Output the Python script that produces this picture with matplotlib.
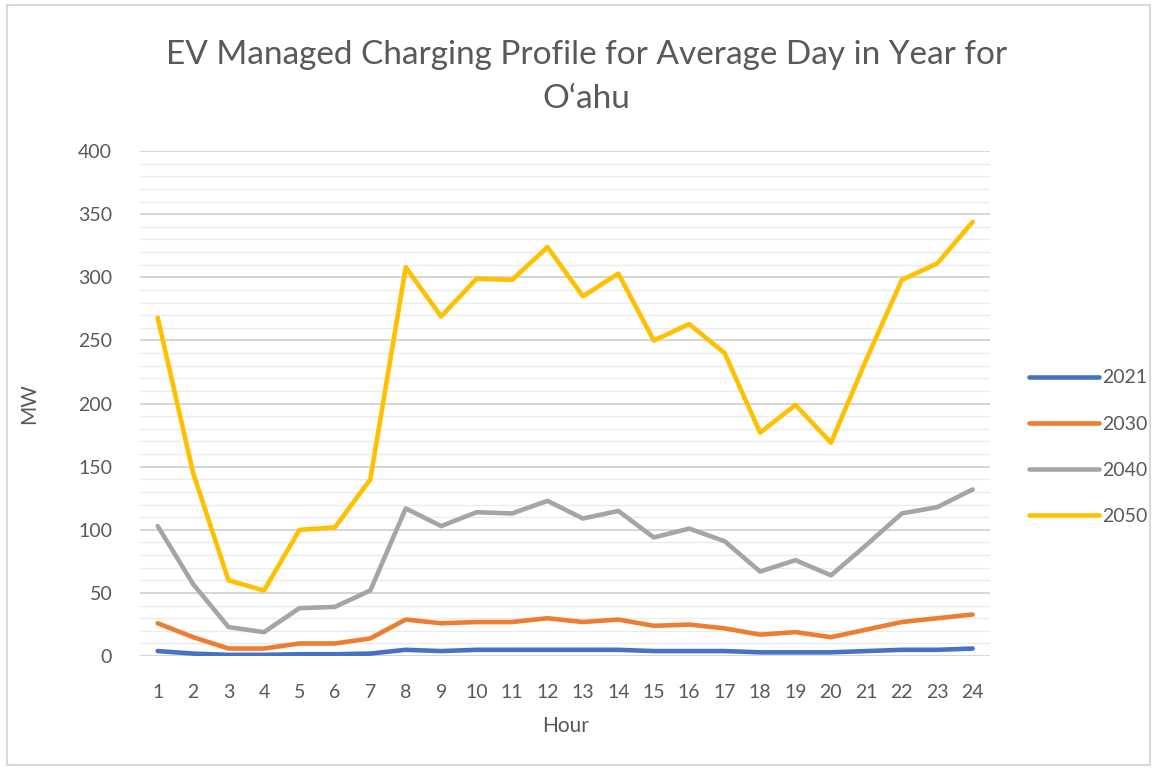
import numpy as np
import matplotlib
matplotlib.use("Agg")
import matplotlib.pyplot as plt
from matplotlib.patches import Rectangle

plt.rcParams['font.family'] = ['Lato', 'DejaVu Sans']

# Hourly managed charging load (MW)
hours = list(range(1, 25))
mw_2021 = [4, 2, 1, 1, 1.5, 1.5, 2, 5, 4, 5, 5, 5, 5, 5, 4, 4, 4, 3, 3, 3, 4, 5, 5, 6]
mw_2030 = [26, 15, 6, 6, 10, 10, 14, 29, 26, 27, 27, 30, 27, 29, 24, 25, 22, 17, 19, 15, 21, 27, 30, 33]
mw_2040 = [103, 57, 23, 19, 38, 39, 52, 117, 103, 114, 113, 123, 109, 115, 94, 101, 91, 67, 76, 64, 88, 113, 118, 132]
mw_2050 = [268, 145, 60, 52, 100, 102, 140, 308, 269, 299, 298, 324, 285, 303, 250, 263, 240, 177, 199, 169, 235, 298, 311, 344]

series = [("2021", mw_2021, "#4472C4"),
          ("2030", mw_2030, "#ED7D31"),
          ("2040", mw_2040, "#A5A5A5"),
          ("2050", mw_2050, "#FFC000")]

txt = "#595959"

fig = plt.figure(figsize=(11.57, 7.71), dpi=100)
ax = fig.add_axes([0.121, 0.149, 0.735, 0.655])

for name, vals, col in series:
    ax.plot(hours, vals, color=col, lw=3.3, label=name, solid_capstyle="round", solid_joinstyle="round")

ax.set_xlim(0.5, 24.5)
ax.set_ylim(0, 400)
ax.set_xticks(hours)
ax.set_yticks(np.arange(0, 401, 50))
ax.set_yticks(np.arange(0, 401, 10), minor=True)
ax.grid(which="major", axis="y", color="#D0D0D0", lw=1.2)
ax.grid(which="minor", axis="y", color="#EBEBEB", lw=1.0)
ax.set_axisbelow(True)
for s in ax.spines.values():
    s.set_visible(False)
ax.tick_params(axis="both", which="both", length=0, labelsize=14, colors=txt)
ax.tick_params(axis="x", pad=20)
ax.tick_params(axis="y", pad=20)

ax.set_xlabel("Hour", fontsize=15, color=txt, labelpad=11)
ax.set_ylabel("MW", fontsize=15, color=txt, labelpad=28)

fig.suptitle("EV Managed Charging Profile for Average Day in Year for\nO\u2018ahu",
             x=0.507, y=0.948, fontsize=24, color=txt, linespacing=1.6)

leg = fig.legend(loc="center left", bbox_to_anchor=(0.874, 0.42), frameon=False,
                 fontsize=14, labelcolor=txt, handlelength=3.6, handletextpad=0.2,
                 labelspacing=1.5)

fig.patches.append(Rectangle((0.006, 0.008), 0.988, 0.985, transform=fig.transFigure,
                             fill=False, edgecolor="#D9D9D9", lw=1.5))

fig.savefig("out.png", dpi=100)
